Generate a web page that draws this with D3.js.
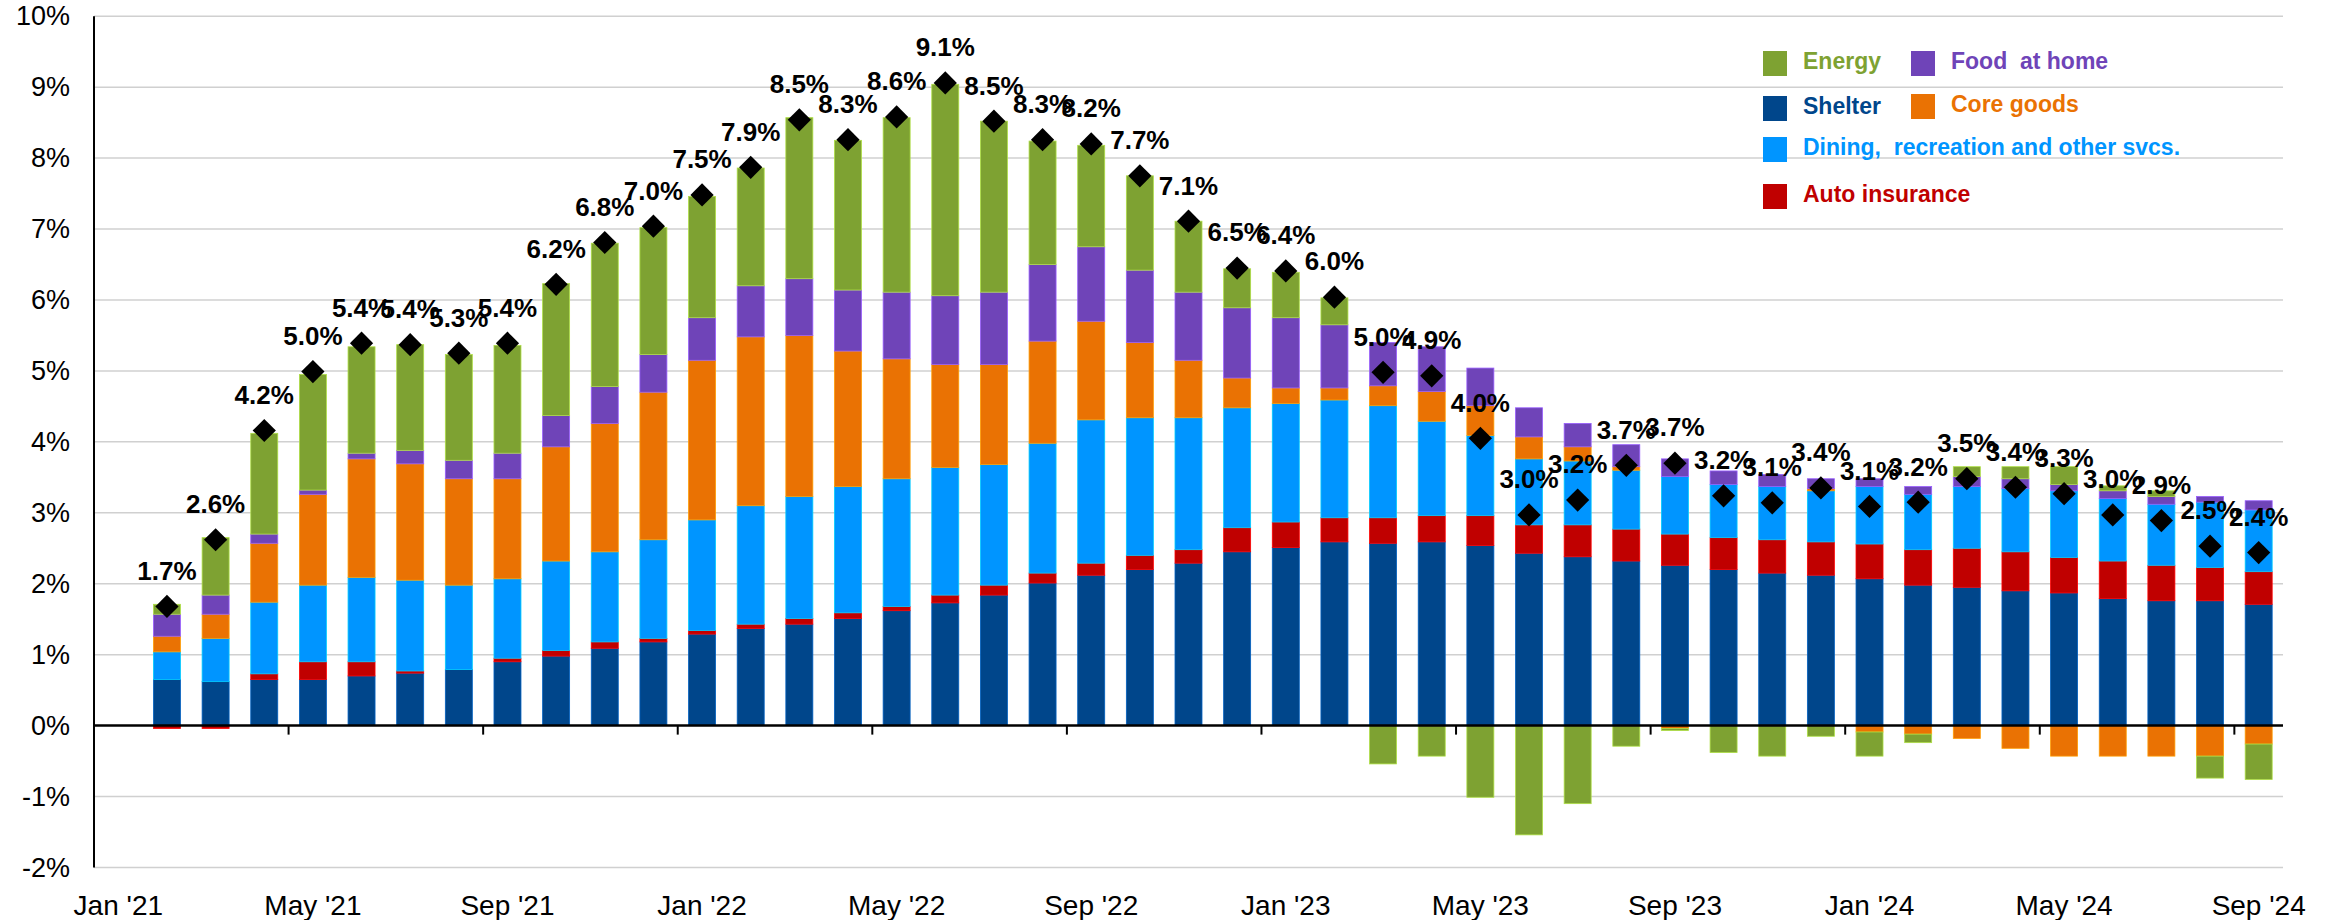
<!DOCTYPE html>
<html>
<head>
<meta charset="utf-8">
<script src="https://cdn.jsdelivr.net/npm/d3@7"></script>
<style>
	html, body { margin: 0; padding: 0; background: #fff; }
	svg { display: block; font-family: "Liberation Sans", Arial, sans-serif; }
</style>
</head>
<body>
<svg id="chart" width="2336" height="920"></svg>
<script>

	// Categories (Jan '21 is an empty slot on the axis)
	var months = ["Jan '21", "Feb '21", "Mar '21", "Apr '21", "May '21", "Jun '21", "Jul '21", "Aug '21", "Sep '21", "Oct '21", "Nov '21", "Dec '21",
		"Jan '22", "Feb '22", "Mar '22", "Apr '22", "May '22", "Jun '22", "Jul '22", "Aug '22", "Sep '22", "Oct '22", "Nov '22", "Dec '22",
		"Jan '23", "Feb '23", "Mar '23", "Apr '23", "May '23", "Jun '23", "Jul '23", "Aug '23", "Sep '23", "Oct '23", "Nov '23", "Dec '23",
		"Jan '24", "Feb '24", "Mar '24", "Apr '24", "May '24", "Jun '24", "Jul '24", "Aug '24", "Sep '24"];

	var tickMonths = ["Jan '21", "May '21", "Sep '21", "Jan '22", "May '22", "Sep '22", "Jan '23", "May '23", "Sep '23", "Jan '24", "May '24", "Sep '24"];

	var yTicks = [-2, -1, 0, 1, 2, 3, 4, 5, 6, 7, 8, 9, 10];

	// Contributions, percentage points
	var shelter = [0, 0.65, 0.62, 0.65, 0.65, 0.70, 0.74, 0.79, 0.90, 0.98, 1.09, 1.18,
		1.29, 1.37, 1.43, 1.51, 1.62, 1.73, 1.84, 2.01, 2.12, 2.20, 2.29, 2.45,
		2.51, 2.59, 2.57, 2.59, 2.54, 2.43, 2.38, 2.32, 2.26, 2.20, 2.15, 2.12,
		2.07, 1.98, 1.95, 1.90, 1.87, 1.79, 1.76, 1.76, 1.71];

	var autoIns = [0, -0.04, -0.04, 0.08, 0.25, 0.20, 0.03, 0.00, 0.05, 0.08, 0.09, 0.05,
		0.05, 0.06, 0.08, 0.08, 0.06, 0.11, 0.14, 0.14, 0.17, 0.20, 0.19, 0.34,
		0.36, 0.34, 0.36, 0.37, 0.42, 0.40, 0.45, 0.45, 0.44, 0.45, 0.47, 0.47,
		0.49, 0.50, 0.55, 0.55, 0.50, 0.53, 0.50, 0.47, 0.46];

	var dining = [0, 0.39, 0.61, 1.01, 1.08, 1.19, 1.28, 1.19, 1.12, 1.26, 1.27, 1.39,
		1.56, 1.67, 1.72, 1.78, 1.80, 1.80, 1.70, 1.83, 2.02, 1.94, 1.86, 1.69,
		1.67, 1.66, 1.58, 1.33, 1.13, 0.93, 0.90, 0.83, 0.81, 0.75, 0.75, 0.72,
		0.81, 0.78, 0.87, 0.89, 0.94, 0.88, 0.86, 0.92, 0.87];

	var coreGoods = [0, 0.22, 0.34, 0.83, 1.28, 1.67, 1.64, 1.50, 1.41, 1.61, 1.81, 2.08,
		2.25, 2.38, 2.27, 1.91, 1.69, 1.45, 1.41, 1.44, 1.39, 1.06, 0.81, 0.42,
		0.22, 0.17, 0.28, 0.42, 0.42, 0.31, 0.20, 0.05, -0.04, 0.00, 0.00, 0.03,
		-0.09, -0.12, -0.18, -0.32, -0.43, -0.43, -0.43, -0.43, -0.26];

	var foodHome = [0, 0.31, 0.27, 0.13, 0.06, 0.08, 0.19, 0.26, 0.36, 0.44, 0.52, 0.53,
		0.60, 0.72, 0.80, 0.86, 0.94, 0.97, 1.02, 1.08, 1.05, 1.02, 0.96, 0.99,
		0.99, 0.89, 0.61, 0.63, 0.53, 0.41, 0.33, 0.31, 0.25, 0.19, 0.17, 0.14,
		0.11, 0.11, 0.14, 0.14, 0.09, 0.11, 0.11, 0.08, 0.13];

	var energy = [0, 0.14, 0.81, 1.42, 1.63, 1.50, 1.49, 1.49, 1.52, 1.86, 2.02, 1.79,
		1.71, 1.66, 2.27, 2.11, 2.46, 2.98, 2.41, 1.74, 1.43, 1.33, 1.00, 0.55,
		0.64, 0.38, -0.54, -0.43, -1.01, -1.54, -1.10, -0.29, -0.03, -0.38, -0.43, -0.15,
		-0.34, -0.12, 0.14, 0.17, 0.25, 0.07, 0.08, -0.31, -0.50];

	// Headline CPI, y/y % (diamonds) and its printed labels
	var headline = [null, 1.68, 2.62, 4.16, 4.99, 5.39, 5.37, 5.25, 5.39, 6.22, 6.81, 7.04,
		7.48, 7.87, 8.54, 8.26, 8.58, 9.06, 8.52, 8.26, 8.20, 7.75, 7.11, 6.45,
		6.41, 6.04, 4.98, 4.93, 4.05, 2.97, 3.18, 3.67, 3.70, 3.24, 3.14, 3.35,
		3.09, 3.15, 3.48, 3.36, 3.27, 2.97, 2.89, 2.53, 2.44];

	var headlineLabels = ["", "1.7%", "2.6%", "4.2%", "5.0%", "5.4%", "5.4%", "5.3%", "5.4%", "6.2%", "6.8%", "7.0%",
		"7.5%", "7.9%", "8.5%", "8.3%", "8.6%", "9.1%", "8.5%", "8.3%", "8.2%", "7.7%", "7.1%", "6.5%",
		"6.4%", "6.0%", "5.0%", "4.9%", "4.0%", "3.0%", "3.2%", "3.7%", "3.7%", "3.2%", "3.1%", "3.4%",
		"3.1%", "3.2%", "3.5%", "3.4%", "3.3%", "3.0%", "2.9%", "2.5%", "2.4%"];

	// Series, in stacking order (bottom to top)
	var seriesKeys = ["shelter", "autoIns", "dining", "coreGoods", "foodHome", "energy"];
	var seriesNames = ["Shelter", "Auto insurance", "Dining,  recreation and other svcs.", "Core goods", "Food  at home", "Energy"];
	var seriesColors = ["#00468b", "#c00000", "#0095ff", "#ea7203", "#6f44b8", "#7ea232"];


	//////////////////////////////////////////////
	//            Setup                         //
	//////////////////////////////////////////////

	var chart = {};

	chart.left = 94;
	chart.right = 2283;

	chart.dom = d3.select('#chart');

	// build the table the stack layout needs
	var seriesValues = [shelter, autoIns, dining, coreGoods, foodHome, energy];
	var rows = months.map(function(m, i) {
		var row = { month: m };
		seriesKeys.forEach(function(k, j) { row[k] = seriesValues[j][i]; });
		return row;
	});

	var stacked = d3.stack()
		.keys(seriesKeys)
		.offset(d3.stackOffsetDiverging)(rows);

	var x = d3.scaleBand()
		.domain(months)
		.range([chart.left, chart.right])
		.paddingInner(0.445)
		.paddingOuter(0.2225);

	var y = d3.scaleLinear()
		.domain([-2, 10])
		.range([867.5, 16.2]);

	var color = d3.scaleOrdinal().domain(seriesKeys).range(seriesColors);


	//////////////////////////////////////////////
	//            Grid and axes                 //
	//////////////////////////////////////////////

	chart.dom.append('g')
		.selectAll('line')
		.data(yTicks.filter(function(d) { return d !== 0; }))
		.enter().append('line')
			.attr('x1', chart.left)
			.attr('x2', chart.right)
			.attr('y1', function(d) { return y(d); })
			.attr('y2', function(d) { return y(d); })
			.attr('stroke', '#d0d0d0')
			.attr('stroke-width', 1.5);

	var yAxis = chart.dom.append('g')
		.attr('transform', 'translate(' + chart.left + ',0)')
		.call(d3.axisLeft(y)
			.tickValues(yTicks)
			.tickFormat(function(d) { return d + '%'; })
			.tickSize(0)
			.tickPadding(24));
	yAxis.select('.domain').remove();
	yAxis.selectAll('text')
		.attr('font-family', '"Liberation Sans", Arial, sans-serif')
		.attr('font-size', 27)
		.attr('fill', '#000');


	//////////////////////////////////////////////
	//            Bars                          //
	//////////////////////////////////////////////

	chart.dom.append('g')
		.selectAll('g')
		.data(stacked)
		.enter().append('g')
			.attr('fill', function(s) { return color(s.key); })
			.attr('stroke', function(s) { return d3.color(color(s.key)).brighter(0.9); })
			.attr('stroke-width', 0.8)
		.selectAll('rect')
		.data(function(s) { return s; })
		.enter().append('rect')
			.attr('x', function(d) { return x(d.data.month); })
			.attr('width', x.bandwidth())
			.attr('y', function(d) { return y(Math.max(d[0], d[1])); })
			.attr('height', function(d) { return Math.abs(y(d[0]) - y(d[1])); });

	// zero line, y axis line and the category ticks
	chart.dom.append('line')
		.attr('x1', chart.left).attr('x2', chart.right)
		.attr('y1', y(0)).attr('y2', y(0))
		.attr('stroke', '#000')
		.attr('stroke-width', 2.5);

	chart.dom.append('line')
		.attr('x1', chart.left).attr('x2', chart.left)
		.attr('y1', y(10)).attr('y2', y(-2))
		.attr('stroke', '#000')
		.attr('stroke-width', 2);

	var halfGap = x.step() * x.paddingInner() / 2;

	chart.dom.append('g')
		.selectAll('line')
		.data(tickMonths.slice(1))
		.enter().append('line')
			.attr('x1', function(d) { return x(d) - halfGap; })
			.attr('x2', function(d) { return x(d) - halfGap; })
			.attr('y1', y(0))
			.attr('y2', y(0) + 9)
			.attr('stroke', '#000')
			.attr('stroke-width', 2);

	chart.dom.append('g')
		.selectAll('text')
		.data(tickMonths)
		.enter().append('text')
			.attr('x', function(d) { return x(d) + x.bandwidth() / 2; })
			.attr('y', 915)
			.attr('text-anchor', 'middle')
			.attr('font-size', 28)
			.attr('fill', '#000')
			.text(function(d) { return d; });


	//////////////////////////////////////////////
	//            Headline diamonds + labels    //
	//////////////////////////////////////////////

	var points = months.map(function(m, i) {
		return { month: m, value: headline[i], label: headlineLabels[i] };
	}).filter(function(p) { return p.value !== null; });

	var diamond = d3.symbol().type(d3.symbolSquare).size(270);

	chart.dom.append('g')
		.selectAll('path')
		.data(points)
		.enter().append('path')
			.attr('d', diamond)
			.attr('fill', '#000')
			.attr('transform', function(p) {
				return 'translate(' + (x(p.month) + x.bandwidth() / 2) + ',' + y(p.value) + ') rotate(45)';
			});

	chart.dom.append('g')
		.selectAll('text')
		.data(points)
		.enter().append('text')
			.attr('x', function(p) { return x(p.month) + x.bandwidth() / 2; })
			.attr('y', function(p) { return y(p.value) - 36; })
			.attr('dy', '0.36em')
			.attr('text-anchor', 'middle')
			.attr('font-size', 26)
			.attr('font-weight', 'bold')
			.attr('fill', '#000')
			.text(function(p) { return p.label; });


	//////////////////////////////////////////////
	//            Legend                        //
	//////////////////////////////////////////////

	// legend slots: [column x, row top] per series, same order as seriesKeys
	var legendSlots = [[1763, 96], [1763, 184], [1763, 137], [1911, 94], [1911, 51], [1763, 51]];

	var legend = chart.dom.append('g')
		.selectAll('g')
		.data(seriesKeys)
		.enter().append('g')
			.attr('transform', function(k, i) { return 'translate(' + legendSlots[i][0] + ',' + legendSlots[i][1] + ')'; });

	legend.append('rect')
		.attr('width', 24)
		.attr('height', 25)
		.attr('fill', function(k) { return color(k); });

	legend.append('text')
		.attr('x', 40)
		.attr('y', 18)
		.attr('font-size', 23)
		.attr('font-weight', 'bold')
		.attr('fill', function(k) { return color(k); })
		.style('white-space', 'pre')
		.text(function(k, i) { return seriesNames[i]; });

</script>
</body>
</html>
